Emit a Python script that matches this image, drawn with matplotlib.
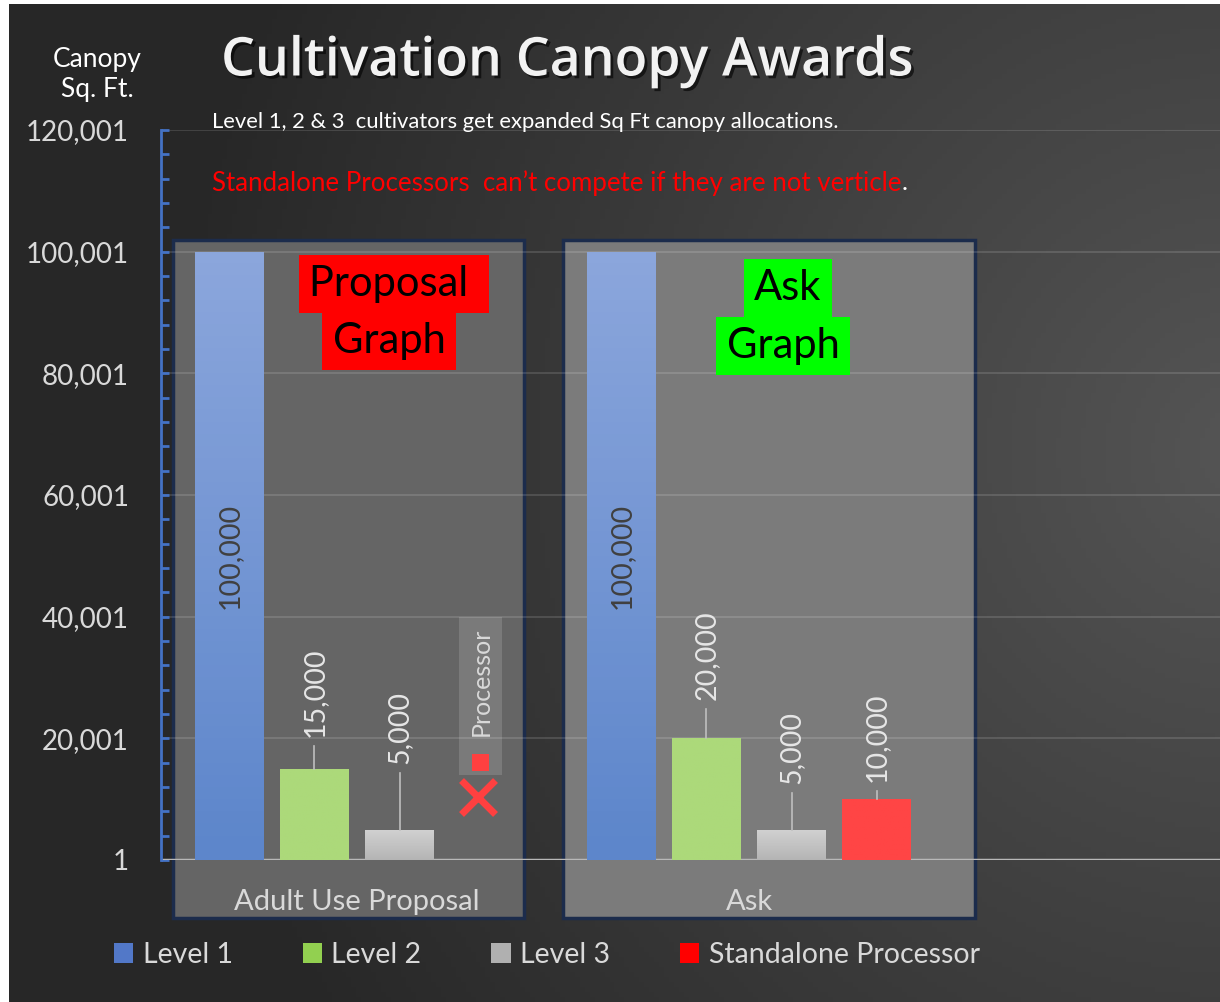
import numpy as np
import matplotlib
matplotlib.use('Agg')
import matplotlib.pyplot as plt
from matplotlib.patches import Rectangle, Patch
from matplotlib.colors import LinearSegmentedColormap
import matplotlib.patheffects as pe

plt.rcParams['font.family'] = ['Lato', 'DejaVu Sans']

# data
categories = ['Adult Use Proposal', 'Ask']
series = ['Level 1', 'Level 2', 'Level 3', 'Standalone Processor']
level1 = [100000, 100000]
level2 = [15000, 20000]
level3 = [5000, 5000]
processor = [0, 10000]
yticks = [1, 20001, 40001, 60001, 80001, 100001, 120001]

# where the value labels sit (bottom of text, in axis units), None = inside bar
label_bottom = [[None, 20200, 15800, None], [None, 26300, 12500, 12800]]

W, H = 1220, 1002
fig = plt.figure(figsize=(W / 100, H / 100), dpi=100)
fig.patch.set_facecolor('white')

def fx(px):
    return px / W

def fy(py):
    return 1 - py / H

# background with a radial gradient
ax_bg = fig.add_axes([0, 0, 1, 1], zorder=-1)
ax_bg.set_xlim(0, W)
ax_bg.set_ylim(H, 0)
ax_bg.axis('off')
gx, gy = np.meshgrid(np.linspace(0, W, 244), np.linspace(0, H, 200))
d = np.sqrt((gx - 1250) ** 2 + (gy - 450) ** 2)
shade = (39 + 46 * np.clip(1 - d / 1100, 0, 1)) / 255
ax_bg.imshow(np.dstack([shade, shade, shade]), extent=[9, W, H, 4], aspect='auto', zorder=0)

# group boxes
ax_bg.add_patch(Rectangle((173, 240), 351, 678, facecolor='#656565', edgecolor='#1c2c4c', lw=2.5, zorder=1))
ax_bg.add_patch(Rectangle((563, 240), 412, 678, facecolor='#7b7b7b', edgecolor='#1c2c4c', lw=2.5, zorder=1))

# "Processor" marker in the proposal box
ax_bg.add_patch(Rectangle((459, 617), 43, 158, facecolor='#7a7a7a', edgecolor='none', zorder=2))
ax_bg.add_patch(Rectangle((472, 754), 17, 17, facecolor='#ff4040', edgecolor='none', zorder=3))
ax_bg.text(481, 682, 'Processor', rotation=90, ha='center', va='center', fontsize=18, color='#d9d9d9', zorder=3)
ax_bg.plot([478], [797], marker='x', markersize=24, mew=5, color='#ff4040', zorder=3)

# main chart
ax = fig.add_axes([fx(161), fy(860), fx(1220 - 161), (860 - 130) / H], zorder=1)
ax.patch.set_alpha(0)

x = np.arange(len(categories))
bw = 0.176
step = 0.217
offsets = (np.arange(4) - 1.5) * step
values = [level1, level2, level3, processor]
grads = [('#8ba6dc', '#5d86cb'), ('#acd97a', '#acd97a'), ('#d2d2d2', '#b4b4b4'), ('#ff4545', '#ff4545')]

for i, vals in enumerate(values):
    bars = ax.bar(x + offsets[i], np.array(vals), bottom=1, width=bw, color=grads[i][1], zorder=3)
    cmap = LinearSegmentedColormap.from_list('g%d' % i, [grads[i][1], grads[i][0]])
    for b in bars:
        if b.get_height() <= 0:
            continue
        im = ax.imshow(np.linspace(0, 1, 50).reshape(-1, 1), cmap=cmap, aspect='auto', origin='lower',
                       extent=[b.get_x(), b.get_x() + b.get_width(), b.get_y(), b.get_y() + b.get_height()],
                       zorder=3.5)
        im.set_clip_path(b)

# value labels
for g in range(len(categories)):
    for i, vals in enumerate(values):
        v = vals[g]
        if v == 0:
            continue
        xc = x[g] + offsets[i]
        lb = label_bottom[g][i]
        if lb is None:
            ax.text(xc, v / 2, '{:,}'.format(v), rotation=90, ha='center', va='center',
                    fontsize=20.5, color='#404040', zorder=5)
        else:
            ax.text(xc, lb, '{:,}'.format(v), rotation=90, ha='center', va='bottom',
                    fontsize=20.5, color='#e6e6e6', zorder=5)
            gap = lb - v
            if gap > 2500:
                ax.plot([xc, xc], [v, lb - 1500], color='#bfbfbf', lw=1.2, zorder=4)

ax.set_ylim(1, 120001)
ax.set_xlim(-0.5, -0.5 + (1220 - 161) / 392)
ax.set_yticks(yticks)
ax.set_yticklabels(['{:,}'.format(t) for t in yticks])
ax.set_yticks(np.arange(1, 120002, 4000), minor=True)
ax.set_xticks(x)
ax.set_xticklabels(categories)
ax.tick_params(axis='x', length=0, pad=21, labelsize=21, labelcolor='#d9d9d9')
ax.tick_params(axis='y', which='both', direction='in', length=6, width=2, color='#4472c4',
               pad=23, labelsize=20, labelcolor='#d9d9d9')
ax.yaxis.grid(True, color='white', alpha=0.13, lw=1.5)
ax.set_axisbelow(True)
for s in ['top', 'right', 'bottom']:
    ax.spines[s].set_visible(False)
ax.spines['left'].set_color('#4472c4')
ax.spines['left'].set_linewidth(2)
ax.axhline(1, color='#b8b8b8', lw=2.5, zorder=2)

# titles and notes
fig.text(fx(567), fy(62), 'Cultivation Canopy Awards', ha='center', va='center', fontsize=38.5,
         fontweight='semibold', color='#f2f2f2', family=['Open Sans', 'DejaVu Sans'],
         path_effects=[pe.withSimplePatchShadow(offset=(2, -2), shadow_rgbFace='black', alpha=0.6)])
fig.text(fx(97), fy(74), 'Canopy\nSq. Ft.', ha='center', va='center', fontsize=19, color='white',
         linespacing=1.25)
fig.text(fx(212), fy(122), 'Level 1, 2 & 3  cultivators get expanded Sq Ft canopy allocations.',
         ha='left', va='center', fontsize=15.8, color='white')
t = fig.text(fx(212), fy(183), 'Standalone Processors  can\u2019t compete if they are not verticle',
             ha='left', va='center', fontsize=18.6, color='#ff0000')
ax_bg.annotate('.', xy=(1, 0.5), xycoords=t, ha='left', va='center', fontsize=18.6, color='white')

pad_box = 'square,pad=0.25'
fig.text(fx(394), fy(284), 'Proposal ', ha='center', va='center', fontsize=30, color='black',
         bbox=dict(boxstyle=pad_box, facecolor='#ff0000', edgecolor='none'))
fig.text(fx(389), fy(341), 'Graph', ha='center', va='center', fontsize=30, color='black',
         bbox=dict(boxstyle=pad_box, facecolor='#ff0000', edgecolor='none'))
fig.text(fx(788), fy(288), 'Ask', ha='center', va='center', fontsize=30, color='black',
         bbox=dict(boxstyle=pad_box, facecolor='#00ff00', edgecolor='none'))
fig.text(fx(783), fy(346), 'Graph', ha='center', va='center', fontsize=30, color='black',
         bbox=dict(boxstyle=pad_box, facecolor='#00ff00', edgecolor='none'))

# legend
legend_colors = ['#5278c8', '#92d050', '#b0b0b0', '#ff0000']
handles = [Patch(facecolor=c, edgecolor='none') for c in legend_colors]
fig.legend(handles, series, loc='center left', bbox_to_anchor=(fx(114), fy(955)), ncol=4,
           frameon=False, fontsize=20.5, labelcolor='#d9d9d9', handlelength=0.68, handleheight=0.68,
           handletextpad=0.33, columnspacing=2.45, borderaxespad=0, borderpad=0)

fig.savefig('out.png', dpi=100)
